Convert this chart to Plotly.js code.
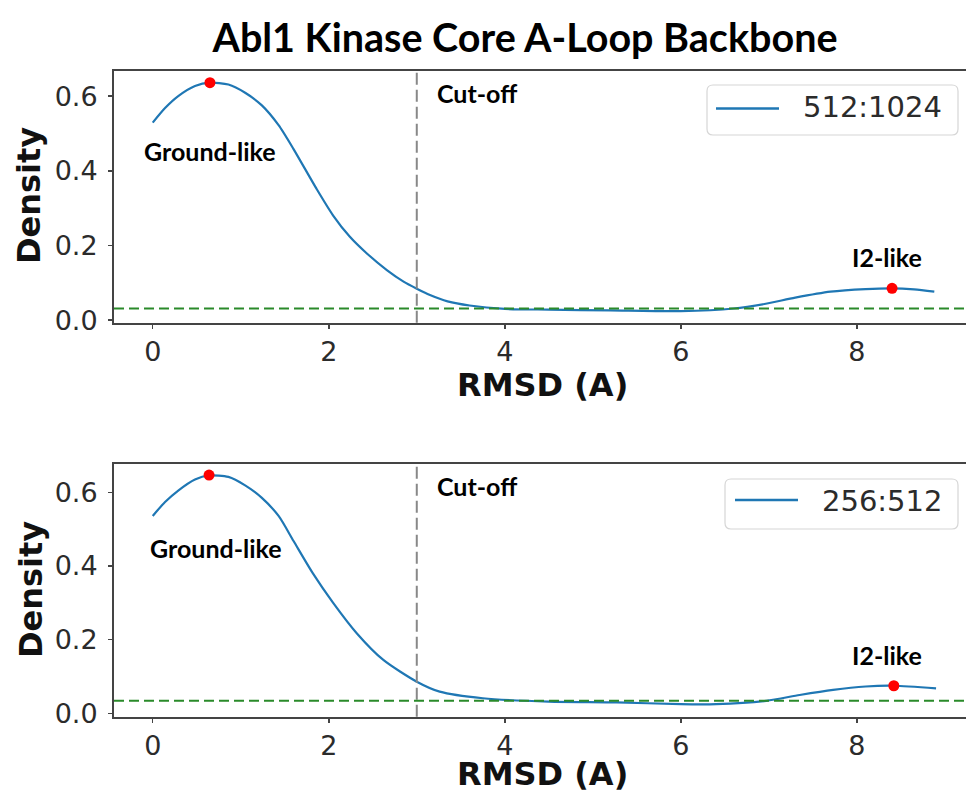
<!DOCTYPE html>
<html>
<head>
<meta charset="utf-8">
<script src="https://cdn.plot.ly/plotly-3.0.1.min.js"></script>
<style>html,body{margin:0;padding:0;background:#fff;}#chart{width:966px;height:792px;}</style>
</head>
<body>
<div id="chart"></div>
<script>
// ---- data ----
const titleText = "Abl1 Kinase Core A-Loop Backbone";
const xTitle = "RMSD (A)";
const yTitle = "Density";

const topName = "512:1024";
const topX = [0, 0.14, 0.29, 0.48, 0.65, 0.86, 1.05, 1.24, 1.43, 1.6, 1.86, 2.05, 2.24, 2.43, 2.66, 2.85, 3.0, 3.15, 3.35, 3.6, 4.0, 4.5, 5.2, 6.0, 6.6, 6.95, 7.3, 7.7, 8.1, 8.4, 8.65, 8.88];
const topY = [0.529, 0.568, 0.600, 0.627, 0.636, 0.631, 0.609, 0.575, 0.522, 0.458, 0.352, 0.280, 0.223, 0.179, 0.134, 0.103, 0.084, 0.067, 0.050, 0.039, 0.030, 0.028, 0.026, 0.024, 0.031, 0.043, 0.060, 0.076, 0.083, 0.085, 0.082, 0.076];
const topPeakX = [0.65, 8.4];
const topPeakY = [0.636, 0.085];
const topThreshold = 0.031;

const botName = "256:512";
const botX = [0, 0.14, 0.29, 0.48, 0.64, 0.86, 1.05, 1.24, 1.43, 1.6, 1.82, 2.05, 2.32, 2.62, 3.0, 3.26, 3.75, 4.5, 5.27, 6.0, 6.4, 6.97, 7.35, 7.73, 8.1, 8.42, 8.9];
const botY = [0.536, 0.574, 0.605, 0.635, 0.646, 0.642, 0.619, 0.585, 0.536, 0.468, 0.380, 0.300, 0.217, 0.145, 0.086, 0.059, 0.041, 0.032, 0.030, 0.025, 0.025, 0.034, 0.050, 0.064, 0.073, 0.075, 0.068];
const botPeakX = [0.64, 8.42];
const botPeakY = [0.647, 0.075];
const botThreshold = 0.034;

const cutoff = 3;
const peakLabels = ["Ground-like", "I2-like"];
const cutoffLabel = "Cut-off";
const yTickVals = [0, 0.2, 0.4, 0.6];
const xTickVals = [0, 2, 4, 6, 8];

// ---- presentation ----
const W = 966, H = 792;
const PX = p => p / W, PY = p => 1 - p / H;
const blue = "#1f77b4";
const calibriLike = "Lato, 'Open Sans', sans-serif";
const dejavu = "'DejaVu Sans', sans-serif";

function curve(x, y, xa, ya, name) {
  return {x: x, y: y, xaxis: xa, yaxis: ya, name: name, mode: "lines", type: "scatter",
          line: {color: blue, width: 2.2, shape: "spline", smoothing: 0.7}, showlegend: false, hoverinfo: "skip"};
}
function peaks(x, y, xa, ya) {
  return {x: x, y: y, xaxis: xa, yaxis: ya, mode: "markers", type: "scatter",
          marker: {color: "#ff0000", size: 11}, showlegend: false, hoverinfo: "skip"};
}

const data = [
  curve(topX, topY, "x", "y", topName), peaks(topPeakX, topPeakY, "x", "y"),
  curve(botX, botY, "x2", "y2", botName), peaks(botPeakX, botPeakY, "x2", "y2")
];

const axisCommon = {
  showline: true, linecolor: "#444", linewidth: 2, ticks: "outside", ticklen: 4, tickwidth: 1.5,
  tickcolor: "#444", showgrid: false, zeroline: false, tickfont: {family: dejavu, size: 27, color: "#2b2b2b"}
};
const xCommon = Object.assign({}, axisCommon, {range: [-0.44, 9.24], tickvals: xTickVals, mirror: true});
const yCommon = Object.assign({}, axisCommon, {tickvals: yTickVals, tickformat: ".1f", mirror: false, ticklabelstandoff: 5});

function roundRect(x0, y0, x1, y1, r) {
  const a = PX(x0), b = PX(x1), c = PY(y0), d = PY(y1);
  const rx = r / W, ry = r / H;
  return `M${a + rx},${c} L${b - rx},${c} Q${b},${c} ${b},${c - ry} L${b},${d + ry} Q${b},${d} ${b - rx},${d} ` +
         `L${a + rx},${d} Q${a},${d} ${a},${d + ry} L${a},${c - ry} Q${a},${c} ${a + rx},${c} Z`;
}

const shapes = [
  {type: "line", xref: "x", yref: "y domain", x0: cutoff, x1: cutoff, y0: 0, y1: 1, line: {color: "#888", width: 2, dash: "12px,5px"}},
  {type: "line", xref: "x2", yref: "y2 domain", x0: cutoff, x1: cutoff, y0: 0, y1: 1, line: {color: "#888", width: 2, dash: "12px,5px"}},
  {type: "line", xref: "x domain", yref: "y", x0: 0, x1: 1, y0: topThreshold, y1: topThreshold, line: {color: "#2a8a2a", width: 2, dash: "10px,5px"}},
  {type: "line", xref: "x2 domain", yref: "y2", x0: 0, x1: 1, y0: botThreshold, y1: botThreshold, line: {color: "#2a8a2a", width: 2, dash: "10px,5px"}},
  {type: "path", xref: "paper", yref: "paper", path: roundRect(707, 85, 958, 135, 6), line: {color: "#d6d6d6", width: 1.2}, fillcolor: "rgba(255,255,255,0.9)"},
  {type: "line", xref: "paper", yref: "paper", x0: PX(716), x1: PX(779), y0: PY(108.5), y1: PY(108.5), line: {color: blue, width: 2.5}},
  {type: "path", xref: "paper", yref: "paper", path: roundRect(725, 479, 958, 529, 6), line: {color: "#d6d6d6", width: 1.2}, fillcolor: "rgba(255,255,255,0.9)"},
  {type: "line", xref: "paper", yref: "paper", x0: PX(735), x1: PX(798), y0: PY(500), y1: PY(500), line: {color: blue, width: 2.5}}
];

const labFont = {family: calibriLike, size: 25, color: "#000", weight: 700};
const legFont = {family: dejavu, size: 29, color: "#2b2b2b"};
const axFont = {family: dejavu, size: 32, color: "#111", weight: 700};
const annotations = [
  {xref: "x", yref: "y", x: -0.122, y: 0.453, text: peakLabels[0], showarrow: false, xanchor: "left", yanchor: "middle", font: labFont},
  {xref: "x", yref: "y", x: 3.21, y: 0.609, text: cutoffLabel, showarrow: false, xanchor: "left", yanchor: "middle", font: labFont},
  {xref: "x", yref: "y", x: 8.34, y: 0.170, text: peakLabels[1], showarrow: false, xanchor: "center", yanchor: "middle", font: labFont},
  {xref: "x2", yref: "y2", x: -0.053, y: 0.449, text: peakLabels[0], showarrow: false, xanchor: "left", yanchor: "middle", font: labFont},
  {xref: "x2", yref: "y2", x: 3.21, y: 0.617, text: cutoffLabel, showarrow: false, xanchor: "left", yanchor: "middle", font: labFont},
  {xref: "x2", yref: "y2", x: 8.34, y: 0.158, text: peakLabels[1], showarrow: false, xanchor: "center", yanchor: "middle", font: labFont},
  {xref: "paper", yref: "paper", x: PX(801), y: PY(107), text: topName, showarrow: false, xanchor: "left", yanchor: "middle", font: legFont},
  {xref: "paper", yref: "paper", x: PX(820), y: PY(501), text: botName, showarrow: false, xanchor: "left", yanchor: "middle", font: legFont},
  {xref: "paper", yref: "paper", x: PX(542), y: PY(385), text: xTitle, showarrow: false, xanchor: "center", yanchor: "middle", font: axFont},
  {xref: "paper", yref: "paper", x: PX(542), y: PY(774), text: xTitle, showarrow: false, xanchor: "center", yanchor: "middle", font: axFont},
  {xref: "paper", yref: "paper", x: PX(29), y: PY(196), text: yTitle, showarrow: false, textangle: -90, xanchor: "center", yanchor: "middle", font: axFont},
  {xref: "paper", yref: "paper", x: PX(31), y: PY(590), text: yTitle, showarrow: false, textangle: -90, xanchor: "center", yanchor: "middle", font: axFont}
];

const layout = {
  width: W, height: H,
  margin: {l: 0, r: 0, t: 0, b: 0},
  paper_bgcolor: "#fff", plot_bgcolor: "#fff",
  title: {text: titleText, x: PX(525), y: PY(38), xanchor: "center", yanchor: "middle", xref: "paper", yref: "paper",
          font: {family: calibriLike, size: 39.5, color: "#000", weight: 700}},
  showlegend: false,
  xaxis: Object.assign({}, xCommon, {domain: [PX(114), 1], anchor: "y"}),
  yaxis: Object.assign({}, yCommon, {domain: [PY(322.7), PY(70.7)], range: [-0.007, 0.668], anchor: "x"}),
  xaxis2: Object.assign({}, xCommon, {domain: [PX(114), 1], anchor: "y2"}),
  yaxis2: Object.assign({}, yCommon, {domain: [PY(716.7), PY(464)], range: [-0.009, 0.677], anchor: "x2"}),
  shapes: shapes,
  annotations: annotations
};

Plotly.newPlot("chart", data, layout, {staticPlot: true, displayModeBar: false});
</script>
</body>
</html>
